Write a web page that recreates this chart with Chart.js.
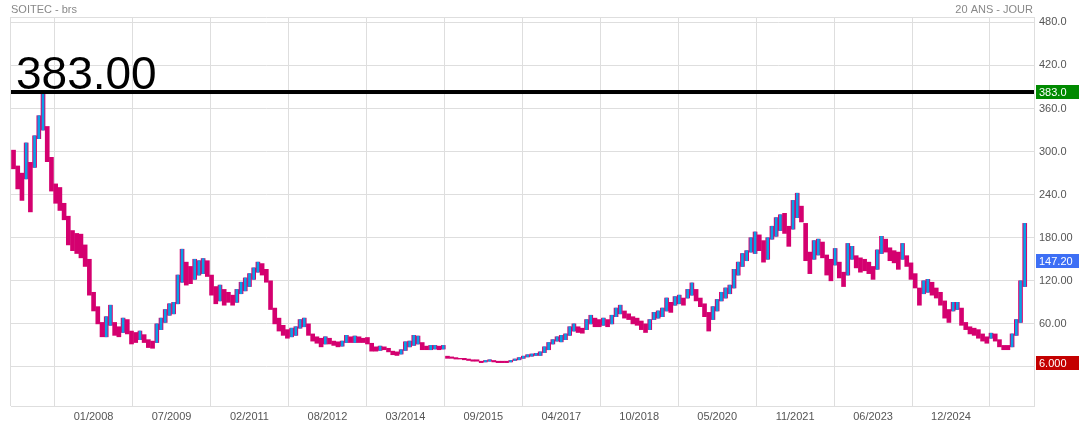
<!DOCTYPE html>
<html>
<head>
<meta charset="utf-8">
<script src="https://cdn.jsdelivr.net/npm/chart.js@4.4.1/dist/chart.umd.min.js"></script>
<style>
  html, body { margin: 0; padding: 0; background: #fff; }
  #wrap { width: 1079px; height: 427px; }
</style>
</head>
<body>
<div id="wrap"><canvas id="myGraph" width="1079" height="427"></canvas></div>
<script>
// monthly ranges, first bar is 06/2006 (x = months counted from 01/2008)
const firstMonth = -19;
const lows = [
  276, 248, 232, 262, 216, 278, 318, 330, 286, 245,
  228, 218, 205, 170, 162, 158, 152, 140, 100, 78,
  60, 42, 42, 58, 44, 42, 48, 46, 32, 34,
  38, 34, 27, 26, 34, 52, 62, 72, 74, 88,
  118, 114, 116, 122, 128, 130, 126, 100, 88, 92,
  86, 90, 86, 90, 102, 106, 112, 122, 132, 128,
  118, 80, 60, 50, 44, 40, 42, 44, 54, 56,
  44, 36, 33, 28, 32, 32, 30, 28, 29, 34,
  34, 34, 34, 34, 32, 22, 22, 23, 24, 21,
  17, 16, 18, 23, 28, 30, 32, 24, 24, 24,
  25, 24, 25, 12, 12, 11, 11, 10, 9, 8,
  8, 6, 7, 8, 7, 6, 6, 6, 7, 9,
  10, 12, 14, 15, 16, 16, 20, 24, 32, 36,
  35, 38, 44, 50, 48, 47, 52, 60, 56, 56,
  58, 56, 60, 70, 74, 68, 66, 60, 58, 52,
  48, 52, 66, 68, 70, 78, 76, 86, 88, 86,
  96, 100, 92, 84, 70, 50, 66, 78, 92, 96,
  102, 110, 128, 140, 148, 160, 158, 162, 146, 150,
  178, 182, 190, 186, 168, 192, 208, 202, 148, 130,
  150, 156, 152, 128, 120, 142, 124, 112, 128, 150,
  138, 132, 134, 130, 122, 136, 158, 160, 148, 145,
  136, 150, 140, 122, 110, 86, 102, 104, 100, 96,
  86, 68, 62, 78, 80, 58, 52, 46, 44, 40,
  36, 33, 40, 36, 28, 24, 24, 28, 44, 62, 112
];
const highs = [
  302, 280, 270, 312, 285, 322, 350, 383, 335, 292,
  255, 250, 228, 210, 190, 186, 185, 170, 150, 104,
  84, 62, 70, 86, 62, 56, 68, 66, 50, 48,
  50, 45, 38, 36, 60, 68, 80, 88, 90, 128,
  164, 146, 140, 150, 148, 151, 148, 128, 112, 114,
  108, 104, 100, 108, 118, 124, 130, 138, 146, 144,
  136, 120, 82, 68, 58, 52, 54, 56, 66, 68,
  60, 46, 42, 40, 42, 40, 36, 35, 36, 44,
  42, 43, 42, 40, 41, 33, 28, 29, 28, 26,
  22, 21, 24, 35, 36, 44, 43, 34, 29, 30,
  30, 29, 30, 15, 14, 13, 12, 12, 11, 10,
  10, 8, 9, 10, 9, 8, 8, 8, 9, 11,
  13, 15, 17, 18, 19, 21, 28, 34, 38, 42,
  44, 46, 56, 60, 56, 54, 66, 72, 68, 66,
  68, 66, 72, 82, 86, 78, 74, 70, 68, 64,
  60, 66, 76, 78, 82, 96, 90, 98, 100, 96,
  108, 117, 108, 96, 88, 76, 84, 94, 104, 110,
  114, 136, 146, 158, 162, 180, 188, 184, 176, 180,
  196, 208, 212, 214, 196, 232, 242, 224, 200, 160,
  176, 178, 174, 156, 150, 165, 146, 132, 172, 168,
  155, 152, 150, 146, 140, 163, 182, 178, 166, 162,
  160, 172, 155, 145, 130, 110, 120, 122, 118, 110,
  104, 92, 80, 90, 90, 82, 62, 56, 54, 52,
  46, 42, 47, 46, 38, 30, 30, 46, 66, 120, 200
];

const xTickMonths = [0, 18.5, 37, 55.5, 74, 92.5, 111, 129.5, 148, 166.5, 185, 203.5];
const xTickLabels = ["01/2008", "07/2009", "02/2011", "08/2012", "03/2014", "09/2015",
  "04/2017", "10/2018", "05/2020", "11/2021", "06/2023", "12/2024"];
const yTickValues = [0, 60, 120, 180, 240, 300, 360, 420, 480];
const yTickLabels = ["", "60.00", "120.00", "180.00", "240.0", "300.0", "360.0", "420.0", "480.0"];

const highValue = 383.0;
const lastValue = 147.2;
const lowValue = 6.0;

const FONT = "'Liberation Sans', Arial, sans-serif";
const gridColor = "#dedede";

const bars = lows.map((lo, i) => ({ x: firstMonth + i, y: [lo, highs[i]] }));
const upBars = bars.filter((b, i) => i > 0 && lows[i] + highs[i] > lows[i - 1] + highs[i - 1]);

const overlay = {
  id: "overlay",
  afterDatasetsDraw(chart) {
    const { ctx, chartArea: a, scales: { y } } = chart;
    const py = y.getPixelForValue(highValue);
    ctx.save();
    ctx.fillStyle = "#000";
    ctx.fillRect(a.left - 1, py - 2, a.right - a.left + 1, 4);
    ctx.font = "46px " + FONT;
    ctx.textBaseline = "alphabetic";
    ctx.fillText(highValue.toFixed(2), 16, py - 3.5);
    ctx.restore();
  },
  afterDraw(chart) {
    const { ctx, chartArea: a, scales: { y } } = chart;
    ctx.save();
    // frame top + left
    ctx.strokeStyle = gridColor;
    ctx.lineWidth = 1;
    ctx.beginPath();
    ctx.moveTo(a.left - 0.5, a.top + 0.5);
    ctx.lineTo(a.right, a.top + 0.5);
    ctx.moveTo(a.left - 0.5, a.top);
    ctx.lineTo(a.left - 0.5, a.bottom);
    ctx.stroke();

    ctx.font = "11px " + FONT;
    ctx.fillStyle = "#888";
    ctx.textBaseline = "alphabetic";
    ctx.textAlign = "left";
    ctx.fillText("SOITEC - brs", 11, 13);
    ctx.textAlign = "right";
    ctx.fillText("20 ANS - JOUR", 1033, 13);

    const tag = (v, txt, bg) => {
      const py = Math.round(y.getPixelForValue(v));
      ctx.fillStyle = bg;
      ctx.fillRect(a.right + 2, py - 7, 1079 - a.right - 2, 14);
      ctx.fillStyle = "#fff";
      ctx.textAlign = "left";
      ctx.textBaseline = "middle";
      ctx.fillText(txt, a.right + 5, py + 0.5);
    };
    tag(highValue, highValue.toFixed(1), "#008a00");
    tag(lastValue, lastValue.toFixed(2), "#3d6ff5");
    tag(lowValue, lowValue.toFixed(3), "#c40000");
    ctx.restore();
  }
};

new Chart(document.getElementById("myGraph"), {
  type: "bar",
  data: {
    datasets: [
      { data: upBars, backgroundColor: "#0aa0e6", barThickness: 2, grouped: false, order: 1 },
      { data: bars, backgroundColor: "#d4006f", barThickness: 4, grouped: false, order: 2 },
    ],
  },
  options: {
    responsive: false,
    animation: false,
    layout: { padding: { left: 11, top: 17, right: 0, bottom: 0 } },
    scales: {
      x: {
        type: "linear",
        min: -19.6,
        max: 223.2,
        offset: false,
        afterBuildTicks: (s) => { s.ticks = xTickMonths.map((v) => ({ value: v })); },
        afterFit: (s) => { s.height = 21; },
        ticks: {
          autoSkip: false,
          maxRotation: 0,
          padding: 4,
          color: "#555",
          font: { family: FONT, size: 11 },
          callback: (v, i) => xTickLabels[i],
        },
        grid: { color: gridColor, drawTicks: false },
        border: { color: gridColor },
      },
      y: {
        position: "right",
        min: -54.4,
        max: 487.5,
        afterBuildTicks: (s) => { s.ticks = yTickValues.map((v) => ({ value: v })); },
        afterFit: (s) => { s.width = 45; },
        ticks: {
          padding: 5,
          color: "#555",
          font: { family: FONT, size: 11 },
          callback: (v, i) => yTickLabels[i],
        },
        grid: { color: gridColor, drawTicks: false },
        border: { color: gridColor },
      },
    },
    plugins: {
      legend: { display: false },
      tooltip: { enabled: false },
    },
  },
  plugins: [overlay],
});
</script>
</body>
</html>
